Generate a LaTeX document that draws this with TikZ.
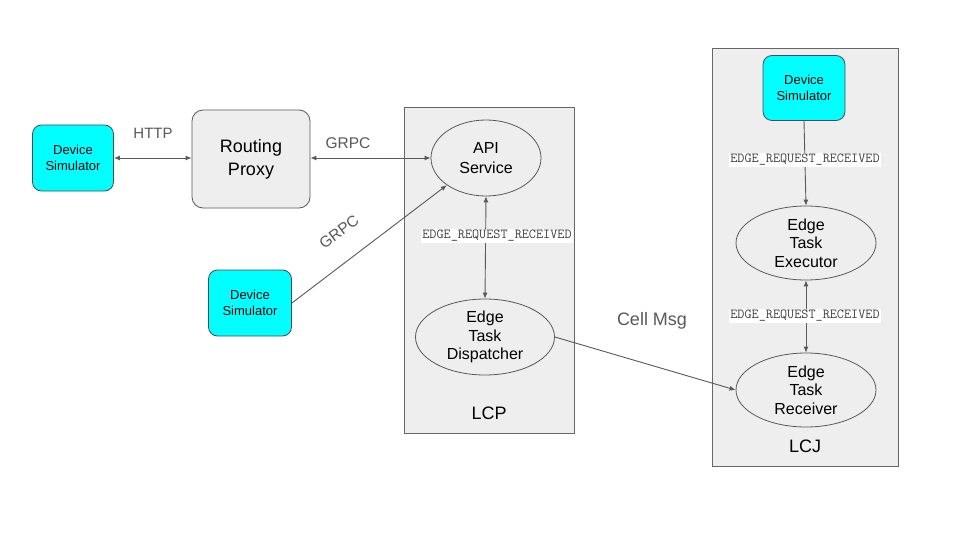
\documentclass[tikz,border=0pt]{standalone}
\usepackage{fontspec}
\setmainfont{Liberation Sans}
\usetikzlibrary{arrows.meta,shapes.geometric}
\definecolor{edgegray}{HTML}{595959}
\definecolor{boxgray}{HTML}{EEEEEE}
\definecolor{simcyan}{HTML}{00FFFF}
\tikzset{
  conn/.style={draw=edgegray, line width=0.9pt},
  tip/.style={-{Latex[length=6pt,width=5pt]}},
  dtip/.style={{Latex[length=6pt,width=5pt]}-{Latex[length=6pt,width=5pt]}},
  sim/.style={draw=black!70, fill=simcyan, rounded corners=9pt, line width=0.8pt,
    minimum width=81pt, minimum height=66pt, align=center, inner sep=0pt,
    font=\fontsize{13}{16.5}\selectfont},
  ell/.style={draw=black!65, fill=boxgray, ellipse, line width=0.8pt, align=center,
    inner sep=0pt, font=\fontsize{16}{18.5}\selectfont},
  container/.style={draw=black!60, fill=boxgray, line width=0.8pt},
  lbl/.style={text=edgegray, inner sep=1pt},
  mono/.style={fill=white, inner sep=1pt, text=black!75, font=\ttfamily\fontsize{13.8}{15}\selectfont},
}
\begin{document}
\begin{tikzpicture}[x=1pt,y=-1pt]
\useasboundingbox[fill=white] (0,0) rectangle (960,540);
% containers
\node[container, minimum width=170pt, minimum height=326pt, inner sep=0pt] (lcp) at (489,270) {};
\node[container, minimum width=186pt, minimum height=418pt, inner sep=0pt] (lcj) at (805,257) {};
\node[font=\fontsize{18}{20}\selectfont] (lcplbl) at (489,413) {LCP};
\node[font=\fontsize{18}{20}\selectfont] (lcjlbl) at (805,446) {LCJ};
% nodes
\node[sim] (ds1) at (73,158) {Device\\Simulator};
\node[draw=black!65, fill=boxgray, rounded corners=11pt, line width=0.8pt,
  minimum width=118pt, minimum height=98pt, align=center, inner sep=0pt,
  font=\fontsize{18}{23}\selectfont] (rp) at (251,159) {Routing\\Proxy};
\node[sim, minimum width=83pt] (ds2) at (250,303) {Device\\Simulator};
\node[sim, minimum width=82pt, minimum height=65pt] (ds3) at (804,88) {Device\\Simulator};
\node[ell, minimum width=110pt, minimum height=76pt, font=\fontsize{16}{20}\selectfont] (api) at (486,158) {API\\Service};
\node[ell, minimum width=139pt, minimum height=76pt] (disp) at (485,337) {Edge\\Task\\Dispatcher};
\node[ell, minimum width=140pt, minimum height=74pt] (exec) at (806,243) {Edge\\Task\\Executor};
\node[ell, minimum width=140pt, minimum height=74pt] (recv) at (806,390) {Edge\\Task\\Receiver};
% connectors
\draw[conn, dtip] (ds1.east) -- (rp.west |- ds1.east);
\draw[conn, dtip] (rp.east |- api.west) -- (api.west);
\draw[conn, tip] (ds2.east) -- (api.south west);
\draw[conn, dtip] (api.south) -- (disp.north);
\draw[conn, tip] (disp.east) -- (recv.west);
\draw[conn, tip] (ds3.south) -- (exec.north);
\draw[conn, dtip] (exec.south) -- (recv.north);
% labels
\node[lbl, font=\fontsize{15}{17}\selectfont] (lhttp) at (153,133) {HTTP};
\node[lbl, font=\fontsize{15.5}{17}\selectfont] (lgrpc1) at (348,143) {GRPC};
\node[lbl, font=\fontsize{15.5}{17}\selectfont, rotate=37] (lgrpc2) at (339,232) {GRPC};
\node[lbl, font=\fontsize{18}{20}\selectfont] (lcell) at (652,321) {Cell Msg};
\node[mono] (m1) at (497,236) {EDGE\_REQUEST\_RECEIVED};
\node[mono] (m2) at (805,160) {EDGE\_REQUEST\_RECEIVED};
\node[mono] (m3) at (805,316) {EDGE\_REQUEST\_RECEIVED};
\end{tikzpicture}
\end{document}
